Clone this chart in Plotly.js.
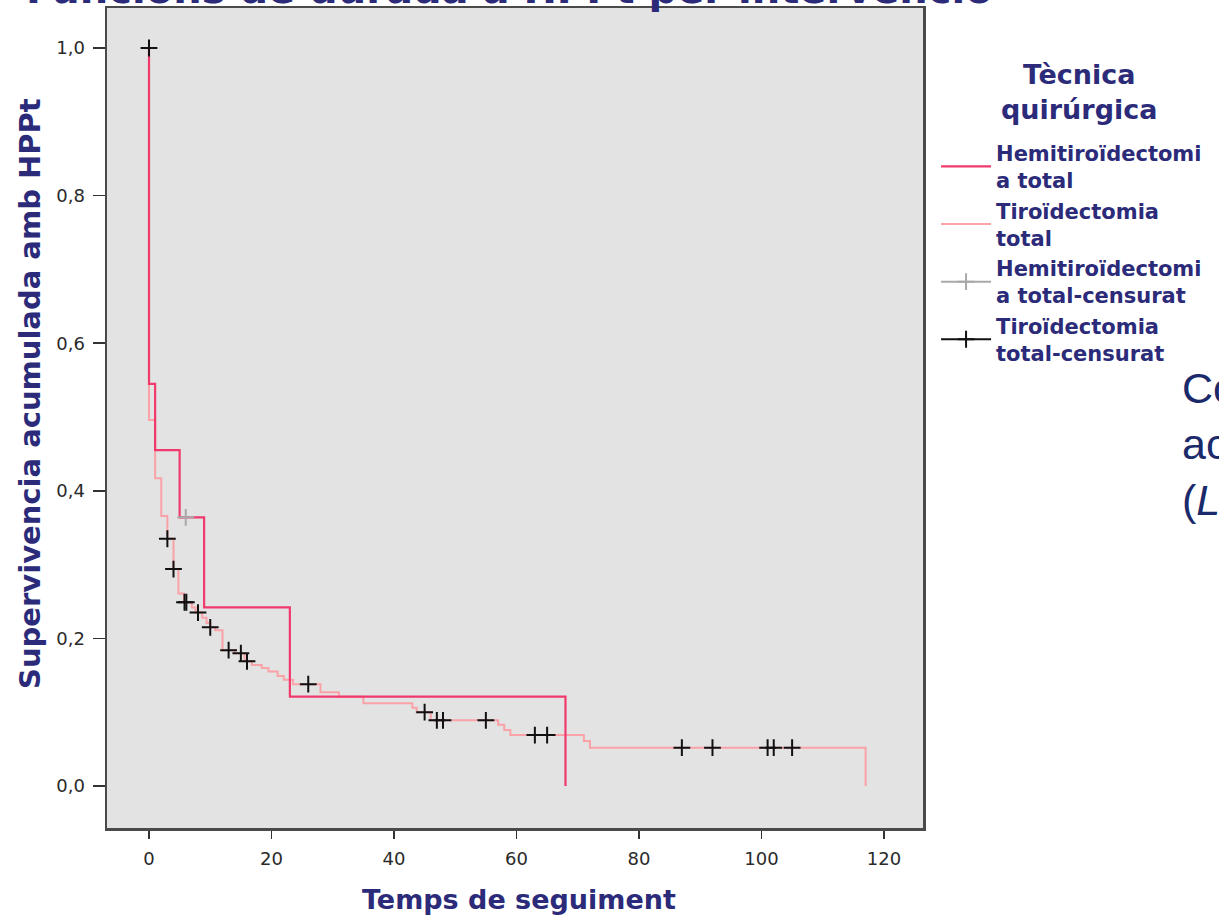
<!DOCTYPE html>
<html>
<head>
<meta charset="utf-8">
<script src="https://cdn.plot.ly/plotly-3.0.1.min.js"></script>
<style>
  html, body { margin: 0; padding: 0; background: #ffffff; overflow: hidden; }
  #chart { width: 1219px; height: 917px; }
</style>
</head>
<body>
<div id="chart"></div>
<script>
// ---- Data ----
const seriesNames = ['Hemitiroïdectomia total', 'Tiroïdectomia total'];

// Hemitiroïdectomia total: event times and survival after each step
const hemiTimes = [0, 1, 5, 9, 23, 68];
const hemiSurv  = [0.545, 0.455, 0.364, 0.242, 0.121, 0.0];
const hemiCensorTimes = [6];
const hemiCensorSurv  = [0.364];

// Tiroïdectomia total: event times and survival after each step
const tiroTimes = [0, 1, 2, 3, 4, 4.8, 5.7, 7, 7.6, 8.7, 9.4, 10, 10.8, 12, 14, 15.6, 16.8, 18.4, 19.5, 21, 22, 23.5, 28, 31, 35, 43, 43.7, 46, 57, 58, 59, 71, 72, 117];
const tiroSurv  = [0.496, 0.417, 0.366, 0.335, 0.294, 0.261, 0.249, 0.242, 0.235, 0.228, 0.221, 0.215, 0.211, 0.184, 0.180, 0.169, 0.164, 0.160, 0.155, 0.149, 0.144, 0.138, 0.127, 0.121, 0.112, 0.106, 0.100, 0.089, 0.083, 0.076, 0.069, 0.061, 0.052, 0.0];
const tiroCensorTimes = [0, 3, 4, 5.8, 6.1, 8, 10, 13, 15, 16, 26, 45, 47, 48, 55, 63, 65, 87, 92, 101, 102, 105];
const tiroCensorSurv  = [1.0, 0.335, 0.294, 0.249, 0.249, 0.235, 0.215, 0.184, 0.180, 0.169, 0.138, 0.100, 0.089, 0.089, 0.089, 0.069, 0.069, 0.052, 0.052, 0.052, 0.052, 0.052];

const xTickVals = [0, 20, 40, 60, 80, 100, 120];
const yTickVals = [0.0, 0.2, 0.4, 0.6, 0.8, 1.0];

const legendTitle = 'Tècnica<br>quirúrgica';
const legendLabels = ['Hemitiroïdectomi<br>a total', 'Tiroïdectomia<br>total', 'Hemitiroïdectomi<br>a total-censurat', 'Tiroïdectomia<br>total-censurat'];
const xTitle = 'Temps de seguiment';
const yTitle = 'Supervivencia acumulada amb HPPt';
const pageTitle = 'Funcions de durada a HPPt per intervenció';
const sideText = 'Corba de supervivència<br>acumulada<br>(<i>Log rank</i>)';

// ---- Styling ----
const NAVY = '#2b2b7a';
const HEMI_COLOR = '#f03a6c';
const TIRO_COLOR = '#f9a2a8';
const FONT_B = 'DejaVu Sans';

function stepXY(times, surv) {
  return { x: [0].concat(times), y: [1].concat(surv) };
}
function gapped(times, surv) {
  const x = [], y = [];
  times.forEach((t, i) => { x.push(t); y.push(surv[i]); x.push(null); y.push(null); });
  return { x, y };
}

const hemiStep = stepXY(hemiTimes, hemiSurv);
const tiroStep = stepXY(tiroTimes, tiroSurv);
const hemiCens = gapped(hemiCensorTimes, hemiCensorSurv);
const tiroCens = gapped(tiroCensorTimes, tiroCensorSurv);

const traces = [
  { x: tiroStep.x, y: tiroStep.y, mode: 'lines', line: { shape: 'hv', color: TIRO_COLOR, width: 2 },
    name: legendLabels[1], legendrank: 2, hoverinfo: 'skip' },
  { x: hemiStep.x, y: hemiStep.y, mode: 'lines', line: { shape: 'hv', color: HEMI_COLOR, width: 2.2 },
    name: legendLabels[0], legendrank: 1, hoverinfo: 'skip' },
  { x: hemiCens.x, y: hemiCens.y, mode: 'lines+markers', connectgaps: false,
    line: { color: '#a9a9a9', width: 2 },
    marker: { symbol: 'cross-thin', size: 12, color: '#a9a9a9', line: { color: '#a9a9a9', width: 2 } },
    name: legendLabels[2], legendrank: 3, hoverinfo: 'skip' },
  { x: tiroCens.x, y: tiroCens.y, mode: 'lines+markers', connectgaps: false,
    line: { color: '#111111', width: 2 },
    marker: { symbol: 'cross-thin', size: 12, color: '#111111', line: { color: '#111111', width: 2 } },
    name: legendLabels[3], legendrank: 4, hoverinfo: 'skip' }
];

const layout = {
  width: 1219, height: 917,
  margin: { l: 107, r: 296, t: 8, b: 89, pad: 0, autoexpand: false },
  paper_bgcolor: '#ffffff',
  plot_bgcolor: '#e3e3e3',
  separators: ',.',
  showlegend: true,
  xaxis: {
    range: [-6.857, 126.37], tickvals: xTickVals, tickformat: 'd',
    ticks: 'outside', ticklen: 8, tickwidth: 1.5, tickcolor: '#333333',
    ticklabelstandoff: 5,
    showline: true, mirror: true, linecolor: '#4a4a4a', linewidth: 2.5,
    showgrid: false, zeroline: false,
    tickfont: { family: FONT_B, size: 18, color: '#2a2a2a' }
  },
  yaxis: {
    range: [-0.0569, 1.0542], tickvals: yTickVals, tickformat: '.1f',
    ticks: 'outside', ticklen: 12, tickwidth: 1.5, tickcolor: '#333333',
    ticklabelstandoff: 4,
    showline: true, mirror: true, linecolor: '#4a4a4a', linewidth: 2.5,
    showgrid: false, zeroline: false,
    tickfont: { family: FONT_B, size: 18, color: '#2a2a2a' }
  },
  legend: {
    x: 1.016, xanchor: 'left', y: 0.848, yanchor: 'top',
    bgcolor: 'rgba(0,0,0,0)', borderwidth: 0,
    itemwidth: 50, tracegroupgap: 0,
    font: { family: FONT_B, size: 21, color: NAVY, weight: 'bold' }
  },
  annotations: [
    { text: pageTitle, xref: 'paper', yref: 'paper',
      x: 1.088, xanchor: 'right', y: 1, yanchor: 'bottom', yshift: -6, showarrow: false,
      font: { family: FONT_B, size: 40, color: NAVY, weight: 'bold' } },
    { text: legendTitle, xref: 'paper', yref: 'paper', align: 'center',
      x: 1.191, xanchor: 'center', y: 0.940, yanchor: 'top', showarrow: false,
      font: { family: FONT_B, size: 27, color: NAVY, weight: 'bold' } },
    { text: yTitle, xref: 'paper', yref: 'paper', textangle: -90,
      x: -0.0944, xanchor: 'center', y: 0.5305, yanchor: 'middle', showarrow: false,
      font: { family: FONT_B, size: 29, color: NAVY, weight: 'bold' } },
    { text: xTitle, xref: 'paper', yref: 'paper',
      x: 0.505, xanchor: 'center', y: -0.0878, yanchor: 'middle', showarrow: false,
      font: { family: FONT_B, size: 27, color: NAVY, weight: 'bold' } },
    { text: sideText, xref: 'paper', yref: 'paper',
      x: 1.315, xanchor: 'left', y: 0.468, yanchor: 'middle', align: 'left', showarrow: false,
      font: { family: 'Liberation Sans', size: 43, color: '#1b2a6b' } }
  ]
};

Plotly.newPlot('chart', traces, layout, { staticPlot: true, displayModeBar: false });
</script>
</body>
</html>
